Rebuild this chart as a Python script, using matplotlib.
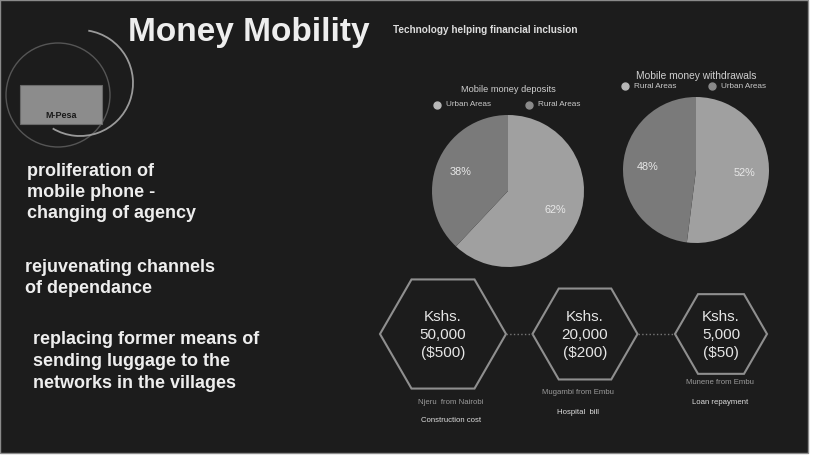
import matplotlib.pyplot as plt
from matplotlib.patches import Rectangle, RegularPolygon, Circle, Arc

plt.rcParams['font.family'] = ['Liberation Sans', 'DejaVu Sans']

# data
deposit_labels = ['Urban Areas', 'Rural Areas']
deposit_shares = [62, 38]
withdrawal_labels = ['Rural Areas', 'Urban Areas']
withdrawal_shares = [52, 48]
amounts_ksh = ['50,000', '20,000', '5,000']
amounts_usd = ['$500', '$200', '$50']
senders = ['Njeru  from Nairobi', 'Mugambi from Embu', 'Munene from Embu']
purposes = ['Construction cost', 'Hospital  bill', 'Loan repayment']
points = [['proliferation of', 'mobile phone -', 'changing of agency'],
          ['rejuvenating channels', 'of dependance'],
          ['replacing former means of', 'sending luggage to the', 'networks in the villages']]

W, H = 818, 457
BG = '#1c1c1c'
LIGHT = '#a0a0a0'
DARK = '#7a7a7a'

fig = plt.figure(figsize=(W / 100, H / 100), dpi=100, facecolor='white')
ax = fig.add_axes([0, 0, 1, 1])
ax.set_xlim(0, W)
ax.set_ylim(H, 0)
ax.axis('off')

ax.add_patch(Rectangle((0, 0), 808, 453, facecolor=BG, edgecolor='#8a8a8a', lw=1))

# logo
ax.add_patch(Circle((58, 95), 52, fill=False, edgecolor='#555555', lw=1))
ax.add_patch(Arc((80, 83), 106, 106, theta1=-81, theta2=121, edgecolor='#9a9a9a', lw=1.3))
ax.add_patch(Rectangle((20, 85), 82, 39, facecolor='#8c8c8c', edgecolor='#6a6a6a', lw=0.8))
ax.text(61, 115, 'M-Pesa', color='#1a1a1a', fontsize=6.5, fontweight='bold', ha='center', va='center')

ax.text(128, 32, 'Money Mobility', color='#eeeeee', fontsize=24, fontweight='bold', va='center')
ax.text(393, 30, 'Technology helping financial inclusion', color='#dddddd', fontsize=7.2,
        fontweight='bold', va='center')

# bullet text blocks
block_pos = [(27, 171), (25, 267), (33, 340)]
for (x0, y0), lines in zip(block_pos, points):
    for i, line in enumerate(lines):
        ax.text(x0, y0 + i * 21.5, line, color='#eeeeee', fontsize=13, fontweight='bold', va='center')


def draw_pie(cx, cy, r, shares, title, ty, tsize, labels, leg_y, leg_x):
    pax = fig.add_axes([(cx - r) / W, 1 - (cy + r) / H, 2 * r / W, 2 * r / H])
    pax.pie(shares, colors=[LIGHT, DARK], startangle=90, counterclock=False,
            autopct='%d%%', pctdistance=0.67,
            textprops=dict(color='#e8e8e8', fontsize=7.8))
    pax.set_xlim(-1, 1)
    pax.set_ylim(-1, 1)
    ax.text(cx, ty, title, color='#cfcfcf', fontsize=tsize, ha='center', va='center')
    for lx, lab, col in zip(leg_x, labels, ['#b8b8b8', '#8a8a8a']):
        ax.plot(lx, leg_y, 'o', color=col, ms=5)
        ax.text(lx + 9, leg_y, lab, color='#c8c8c8', fontsize=5.9, va='center')


draw_pie(508, 191, 76, deposit_shares, 'Mobile money deposits', 90, 6.7,
         deposit_labels, 105, [437, 529])
draw_pie(696, 170, 73, withdrawal_shares, 'Mobile money withdrawals', 76, 7.4,
         withdrawal_labels, 86, [625, 712])

# hexagons
hex_x = [443, 585, 721]
hex_r = [63, 52.5, 46]
hex_y = 334
caption_x = [451, 578, 720]
sender_y = [402, 393, 383]
for i in range(3):
    ax.add_patch(RegularPolygon((hex_x[i], hex_y), 6, radius=hex_r[i], orientation=3.14159 / 6,
                                fill=False, edgecolor='#8f8f8f', lw=1.5))
    ax.text(hex_x[i], hex_y + 1, 'Kshs.\n' + amounts_ksh[i] + '\n(' + amounts_usd[i] + ')',
            color='#e6e6e6', fontsize=11, ha='center', va='center', linespacing=1.38)
    ax.text(caption_x[i], sender_y[i], senders[i], color='#9a9a9a', fontsize=5.6, ha='center', va='center')
    ax.text(caption_x[i], sender_y[i] + 19, purposes[i], color='#dddddd', fontsize=5.6, ha='center', va='center')
    if i < 2:
        ax.plot([hex_x[i] + hex_r[i], hex_x[i + 1] - hex_r[i + 1]], [hex_y, hex_y],
                ls=':', color='#777777', lw=1)

fig.savefig('out.png', dpi=100, facecolor=fig.get_facecolor())
